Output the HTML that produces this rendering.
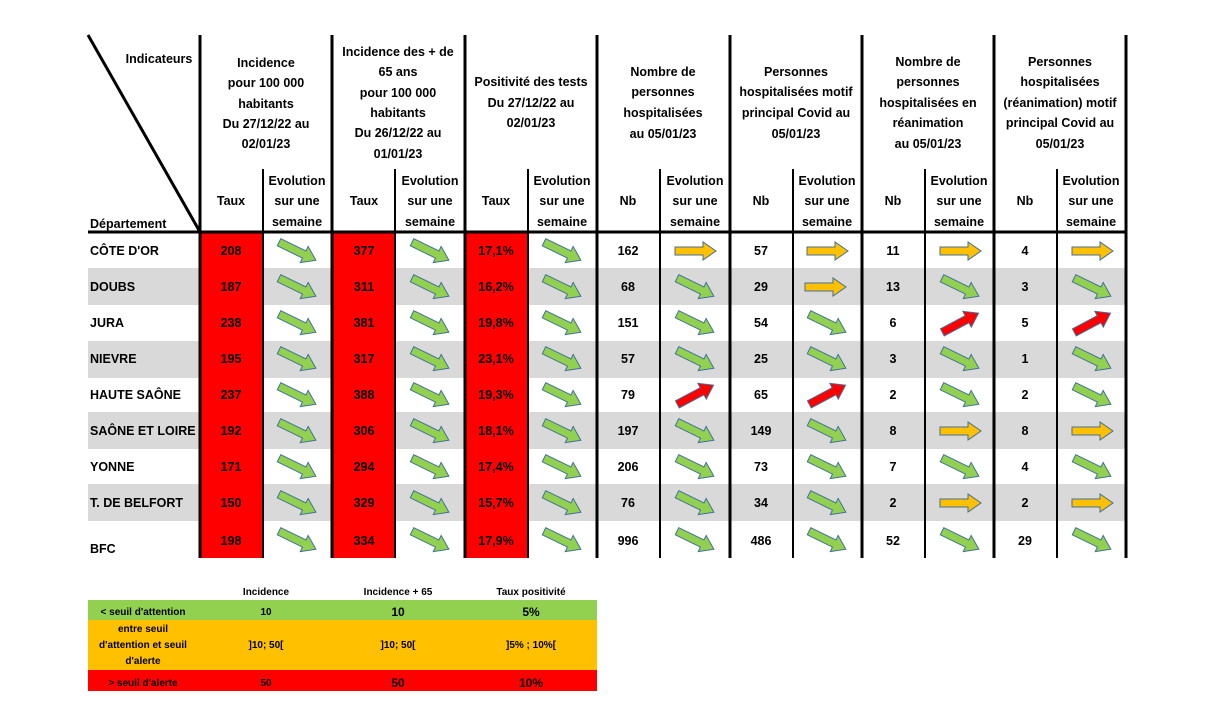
<!DOCTYPE html>
<html><head><meta charset="utf-8"><style>
html,body{margin:0;padding:0;background:#fff;}
svg{display:block;font-family:"Liberation Sans",Arial,sans-serif;font-weight:bold;}
</style></head><body>
<svg width="1225" height="712" viewBox="0 0 1225 712" xmlns="http://www.w3.org/2000/svg">
<defs>
<polygon id="ah" points="-20,-4 8,-4 8,-9 21,0 8,9 8,4 -20,4" stroke="#41719c" stroke-width="1"/>
<use id="G" href="#ah" fill="#92d050" transform="rotate(26)"/>
<use id="R" href="#ah" fill="#ff0000" transform="rotate(-28)"/>
<use id="Y" href="#ah" fill="#ffc000"/>
</defs>
<!-- gray rows -->
<g fill="#d9d9d9">
<rect x="88" y="268" width="1038" height="37"/>
<rect x="88" y="341" width="1038" height="37"/>
<rect x="88" y="412" width="1038" height="37"/>
<rect x="88" y="484" width="1038" height="37"/>
</g>
<!-- red cells -->
<g fill="#ff0000">
<rect x="200" y="232" width="63" height="326"/>
<rect x="332" y="232" width="63" height="326"/>
<rect x="465" y="232" width="63" height="326"/>
</g>
<!-- lines -->
<g stroke="#000">
<line x1="88" y1="35" x2="200" y2="232" stroke-width="3"/>
<line x1="88" y1="232" x2="1126" y2="232" stroke-width="3"/>
<g stroke-width="3">
<line x1="200" y1="35" x2="200" y2="558"/><line x1="332" y1="35" x2="332" y2="558"/>
<line x1="465" y1="35" x2="465" y2="558"/><line x1="597" y1="35" x2="597" y2="558"/>
<line x1="730" y1="35" x2="730" y2="558"/><line x1="862" y1="35" x2="862" y2="558"/>
<line x1="994" y1="35" x2="994" y2="558"/><line x1="1126" y1="35" x2="1126" y2="558"/>
</g>
<g stroke-width="2">
<line x1="263" y1="169" x2="263" y2="558"/><line x1="395" y1="169" x2="395" y2="558"/>
<line x1="528" y1="169" x2="528" y2="558"/><line x1="660" y1="169" x2="660" y2="558"/>
<line x1="793" y1="169" x2="793" y2="558"/><line x1="925" y1="169" x2="925" y2="558"/>
<line x1="1057" y1="169" x2="1057" y2="558"/>
</g>
</g>
<!-- header text -->
<g font-size="12.5" text-anchor="middle" fill="#000">
<text x="159" y="63">Indicateurs</text>
<text x="266" y="67">Incidence</text><text x="266" y="87">pour 100 000</text><text x="266" y="108">habitants</text><text x="266" y="128">Du 27/12/22 au</text><text x="266" y="148">02/01/23</text>
<text x="398" y="56">Incidence des + de</text><text x="398" y="76">65 ans</text><text x="398" y="97">pour 100 000</text><text x="398" y="117">habitants</text><text x="398" y="137">Du 26/12/22 au</text><text x="398" y="158">01/01/23</text>
<text x="531" y="86">Positivité des tests</text><text x="531" y="107">Du 27/12/22 au</text><text x="531" y="127">02/01/23</text>
<text x="663" y="76">Nombre de</text><text x="663" y="96">personnes</text><text x="663" y="117">hospitalisées</text><text x="663" y="138">au 05/01/23</text>
<text x="796" y="76">Personnes</text><text x="796" y="96">hospitalisées motif</text><text x="796" y="117">principal Covid au</text><text x="796" y="138">05/01/23</text>
<text x="928" y="66">Nombre de</text><text x="928" y="86">personnes</text><text x="928" y="107">hospitalisées en</text><text x="928" y="127">réanimation</text><text x="928" y="148">au 05/01/23</text>
<text x="1060" y="66">Personnes</text><text x="1060" y="86">hospitalisées</text><text x="1060" y="107">(réanimation) motif</text><text x="1060" y="127">principal Covid au</text><text x="1060" y="148">05/01/23</text>
<text x="231" y="205">Taux</text><text x="364" y="205">Taux</text><text x="496" y="205">Taux</text>
<text x="628" y="205">Nb</text><text x="761" y="205">Nb</text><text x="893" y="205">Nb</text><text x="1025" y="205">Nb</text>
<g>
<text x="297" y="185">Evolution</text><text x="297" y="205">sur une</text><text x="297" y="226">semaine</text>
<text x="430" y="185">Evolution</text><text x="430" y="205">sur une</text><text x="430" y="226">semaine</text>
<text x="562" y="185">Evolution</text><text x="562" y="205">sur une</text><text x="562" y="226">semaine</text>
<text x="695" y="185">Evolution</text><text x="695" y="205">sur une</text><text x="695" y="226">semaine</text>
<text x="827" y="185">Evolution</text><text x="827" y="205">sur une</text><text x="827" y="226">semaine</text>
<text x="959" y="185">Evolution</text><text x="959" y="205">sur une</text><text x="959" y="226">semaine</text>
<text x="1091" y="185">Evolution</text><text x="1091" y="205">sur une</text><text x="1091" y="226">semaine</text>
</g>
</g>
<text x="90" y="228" font-size="12.5">Département</text>
<!-- row labels -->
<g font-size="12.5">
<text x="90" y="255">CÔTE D'OR</text><text x="90" y="291">DOUBS</text><text x="90" y="327">JURA</text>
<text x="90" y="363">NIEVRE</text><text x="90" y="399">HAUTE SAÔNE</text><text x="90" y="435">SAÔNE ET LOIRE</text>
<text x="90" y="471">YONNE</text><text x="90" y="507">T. DE BELFORT</text><text x="90" y="553">BFC</text>
</g>
<!-- values -->
<g font-size="12.5" text-anchor="middle">
<g transform="translate(0,255)"><text x="231">208</text><text x="364">377</text><text x="496">17,1%</text><text x="628">162</text><text x="761">57</text><text x="893">11</text><text x="1025">4</text></g>
<g transform="translate(0,291)"><text x="231">187</text><text x="364">311</text><text x="496">16,2%</text><text x="628">68</text><text x="761">29</text><text x="893">13</text><text x="1025">3</text></g>
<g transform="translate(0,327)"><text x="231">238</text><text x="364">381</text><text x="496">19,8%</text><text x="628">151</text><text x="761">54</text><text x="893">6</text><text x="1025">5</text></g>
<g transform="translate(0,363)"><text x="231">195</text><text x="364">317</text><text x="496">23,1%</text><text x="628">57</text><text x="761">25</text><text x="893">3</text><text x="1025">1</text></g>
<g transform="translate(0,399)"><text x="231">237</text><text x="364">388</text><text x="496">19,3%</text><text x="628">79</text><text x="761">65</text><text x="893">2</text><text x="1025">2</text></g>
<g transform="translate(0,435)"><text x="231">192</text><text x="364">306</text><text x="496">18,1%</text><text x="628">197</text><text x="761">149</text><text x="893">8</text><text x="1025">8</text></g>
<g transform="translate(0,471)"><text x="231">171</text><text x="364">294</text><text x="496">17,4%</text><text x="628">206</text><text x="761">73</text><text x="893">7</text><text x="1025">4</text></g>
<g transform="translate(0,507)"><text x="231">150</text><text x="364">329</text><text x="496">15,7%</text><text x="628">76</text><text x="761">34</text><text x="893">2</text><text x="1025">2</text></g>
<g transform="translate(0,545)"><text x="231">198</text><text x="364">334</text><text x="496">17,9%</text><text x="628">996</text><text x="761">486</text><text x="893">52</text><text x="1025">29</text></g>
</g>
<!-- arrows -->
<g>
<g transform="translate(0,251)"><use href="#G" x="0" transform="translate(297,0)"/><use href="#G" transform="translate(430,0)"/><use href="#G" transform="translate(562,0)"/><use href="#Y" transform="translate(695,0)"/><use href="#Y" transform="translate(827,0)"/><use href="#Y" transform="translate(960,0)"/><use href="#Y" transform="translate(1092,0)"/></g>
<g transform="translate(0,287)"><use href="#G" transform="translate(297,0)"/><use href="#G" transform="translate(430,0)"/><use href="#G" transform="translate(562,0)"/><use href="#G" transform="translate(695,0)"/><use href="#Y" transform="translate(825,0)"/><use href="#G" transform="translate(960,0)"/><use href="#G" transform="translate(1092,0)"/></g>
<g transform="translate(0,323)"><use href="#G" transform="translate(297,0)"/><use href="#G" transform="translate(430,0)"/><use href="#G" transform="translate(562,0)"/><use href="#G" transform="translate(695,0)"/><use href="#G" transform="translate(827,0)"/><use href="#R" transform="translate(960,0)"/><use href="#R" transform="translate(1092,0)"/></g>
<g transform="translate(0,359)"><use href="#G" transform="translate(297,0)"/><use href="#G" transform="translate(430,0)"/><use href="#G" transform="translate(562,0)"/><use href="#G" transform="translate(695,0)"/><use href="#G" transform="translate(827,0)"/><use href="#G" transform="translate(960,0)"/><use href="#G" transform="translate(1092,0)"/></g>
<g transform="translate(0,395)"><use href="#G" transform="translate(297,0)"/><use href="#G" transform="translate(430,0)"/><use href="#G" transform="translate(562,0)"/><use href="#R" transform="translate(695,0)"/><use href="#R" transform="translate(827,0)"/><use href="#G" transform="translate(960,0)"/><use href="#G" transform="translate(1092,0)"/></g>
<g transform="translate(0,431)"><use href="#G" transform="translate(297,0)"/><use href="#G" transform="translate(430,0)"/><use href="#G" transform="translate(562,0)"/><use href="#G" transform="translate(695,0)"/><use href="#G" transform="translate(827,0)"/><use href="#Y" transform="translate(960,0)"/><use href="#Y" transform="translate(1092,0)"/></g>
<g transform="translate(0,467)"><use href="#G" transform="translate(297,0)"/><use href="#G" transform="translate(430,0)"/><use href="#G" transform="translate(562,0)"/><use href="#G" transform="translate(695,0)"/><use href="#G" transform="translate(827,0)"/><use href="#G" transform="translate(960,0)"/><use href="#G" transform="translate(1092,0)"/></g>
<g transform="translate(0,503)"><use href="#G" transform="translate(297,0)"/><use href="#G" transform="translate(430,0)"/><use href="#G" transform="translate(562,0)"/><use href="#G" transform="translate(695,0)"/><use href="#G" transform="translate(827,0)"/><use href="#Y" transform="translate(960,0)"/><use href="#Y" transform="translate(1092,0)"/></g>
<g transform="translate(0,540)"><use href="#G" transform="translate(297,0)"/><use href="#G" transform="translate(430,0)"/><use href="#G" transform="translate(562,0)"/><use href="#G" transform="translate(695,0)"/><use href="#G" transform="translate(827,0)"/><use href="#G" transform="translate(960,0)"/><use href="#G" transform="translate(1092,0)"/></g>
</g>
<!-- legend -->
<rect x="88" y="600" width="509" height="20" fill="#92d050"/>
<rect x="88" y="620" width="509" height="50" fill="#ffc000"/>
<rect x="88" y="670" width="509" height="21" fill="#ff0000"/>
<g font-size="10" text-anchor="middle" fill="#000">
<text x="266" y="595">Incidence</text><text x="398" y="595">Incidence + 65</text><text x="531" y="595">Taux positivité</text>
<text x="143" y="615">&lt; seuil d'attention</text><text x="266" y="615">10</text><text x="398" y="616" font-size="12">10</text><text x="531" y="616" font-size="12">5%</text>
<text x="143" y="632">entre seuil</text><text x="143" y="648">d'attention et seuil</text><text x="143" y="664">d'alerte</text>
<text x="266" y="648">]10; 50[</text><text x="398" y="648">]10; 50[</text><text x="531" y="648">]5% ; 10%[</text>
<text x="143" y="686">&gt; seuil d'alerte</text><text x="266" y="686">50</text><text x="398" y="687" font-size="12">50</text><text x="531" y="687" font-size="12">10%</text>
</g>
</svg>
</body></html>
